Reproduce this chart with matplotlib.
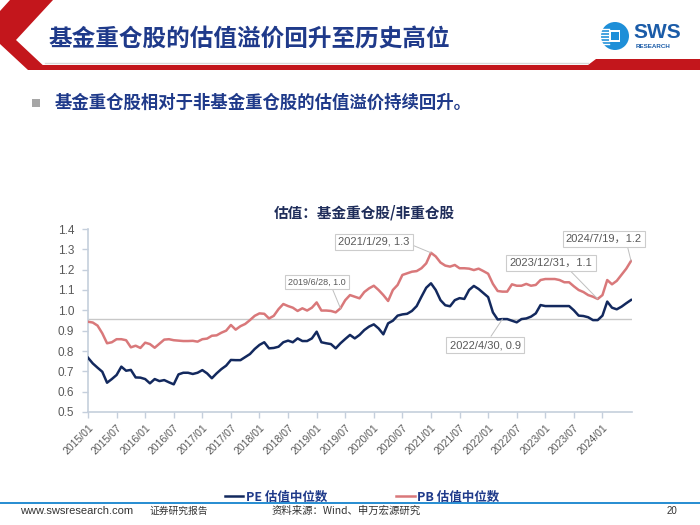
import numpy as np
import matplotlib
matplotlib.use('Agg')
import matplotlib.pyplot as plt
from matplotlib.patches import Polygon, Rectangle, Circle

plt.rcParams['font.family'] = ['Liberation Sans', 'Noto Sans CJK SC', 'DejaVu Sans']

# 月度数据：2015/01 - 2024/07
pe = [0.767, 0.739, 0.718, 0.698, 0.644, 0.662, 0.682, 0.723, 0.703, 0.707,
      0.670, 0.669, 0.662, 0.641, 0.662, 0.652, 0.657, 0.646, 0.636, 0.685,
      0.693, 0.693, 0.687, 0.693, 0.706, 0.690, 0.666, 0.690, 0.711, 0.728,
      0.756, 0.755, 0.755, 0.770, 0.785, 0.810, 0.830, 0.843, 0.813, 0.815,
      0.821, 0.843, 0.851, 0.843, 0.862, 0.849, 0.849, 0.862, 0.895, 0.843,
      0.838, 0.834, 0.813, 0.838, 0.859, 0.879, 0.862, 0.879, 0.903, 0.920,
      0.931, 0.911, 0.882, 0.936, 0.949, 0.974, 0.980, 0.983, 0.997, 1.021,
      1.067, 1.111, 1.133, 1.100, 1.050, 1.025, 1.020, 1.050, 1.060, 1.056,
      1.100, 1.120, 1.105, 1.085, 1.065, 0.990, 0.955, 0.957, 0.957, 0.949,
      0.941, 0.957, 0.960, 0.969, 0.985, 1.026, 1.021, 1.021, 1.021, 1.021,
      1.021, 1.021, 1.000, 0.974, 0.972, 0.966, 0.952, 0.952, 0.974, 1.043,
      1.013, 1.005, 1.018, 1.035, 1.051]
pb = [0.944, 0.940, 0.925, 0.887, 0.838, 0.843, 0.858, 0.858, 0.853, 0.818,
      0.826, 0.815, 0.841, 0.834, 0.816, 0.836, 0.856, 0.858, 0.853, 0.851,
      0.849, 0.849, 0.850, 0.846, 0.858, 0.861, 0.875, 0.877, 0.890, 0.900,
      0.928, 0.905, 0.922, 0.933, 0.952, 0.973, 0.985, 0.983, 0.960, 0.973,
      1.006, 1.031, 1.021, 1.013, 0.997, 1.010, 0.999, 1.013, 1.039, 0.999,
      0.999, 0.997, 0.990, 1.010, 1.050, 1.075, 1.067, 1.059, 1.090, 1.108,
      1.121, 1.100, 1.075, 1.046, 1.100, 1.125, 1.174, 1.182, 1.190, 1.193,
      1.207, 1.231, 1.283, 1.265, 1.235, 1.220, 1.215, 1.223, 1.207, 1.207,
      1.205, 1.198, 1.205, 1.193, 1.180, 1.130, 1.095, 1.092, 1.092, 1.128,
      1.121, 1.121, 1.130, 1.121, 1.125, 1.149, 1.154, 1.154, 1.154, 1.149,
      1.138, 1.138, 1.118, 1.100, 1.090, 1.075, 1.067, 1.056, 1.075, 1.149,
      1.128, 1.145, 1.175, 1.205, 1.243]
ref_level = 0.955
xtick_labels = ['2015/01', '2015/07', '2016/01', '2016/07', '2017/01', '2017/07',
                '2018/01', '2018/07', '2019/01', '2019/07', '2020/01', '2020/07',
                '2021/01', '2021/07', '2022/01', '2022/07', '2023/01', '2023/07',
                '2024/01']
yticks = [0.5, 0.6, 0.7, 0.8, 0.9, 1.0, 1.1, 1.2, 1.3, 1.4]
# 标注：(文字, 序列, 月份序号)
notes = [('2019/6/28, 1.0', 'pb', 53),
         ('2021/1/29, 1.3', 'pb', 72),
         ('2022/4/30, 0.9', 'pe', 87),
         ('2023/12/31，1.1', 'pb', 107),
         ('2024/7/19，1.2', 'pb', 114)]

W, H = 700, 525
def fx(x): return x / W
def fy(y): return 1 - y / H

navy = '#13295e'
salmon = '#d9787a'
title_blue = '#1f3a8a'
red = '#c3161c'
cjk = ['Noto Sans CJK SC', 'DejaVu Sans']

fig = plt.figure(figsize=(7, 5.25), dpi=100)

# 背景装饰
bg = fig.add_axes([0, 0, 1, 1])
bg.set_xlim(0, W); bg.set_ylim(H, 0); bg.axis('off')
bg.add_patch(Polygon([(10, 0), (53, 0), (16, 40), (48, 70), (28, 70), (0, 44), (0, 11)],
                     closed=True, color=red, lw=0))
bg.add_patch(Polygon([(28, 65), (588, 65), (596, 59), (700, 59), (700, 70), (28, 70)],
                     closed=True, color=red, lw=0))
bg.plot([45, 588], [63.2, 63.2], color='#d8d8d8', lw=1)
bg.add_patch(Rectangle((0, 501.5), 700, 2, color='#2b8fd2', lw=0))
bg.add_patch(Rectangle((32, 99), 8, 8, color='#a6a6a6', lw=0))
# logo
bg.add_patch(Circle((615, 36), 14, color='#1e8fd8', lw=0))
for yy in [29, 32, 35, 38, 41, 44]:
    bg.plot([601, 609], [yy, yy], color='white', lw=1)
bg.add_patch(Rectangle((609, 30), 11, 12, color='white', lw=0))
bg.add_patch(Rectangle((611, 32), 8, 8, color='#1e8fd8', lw=0))
fig.text(fx(633), fy(33), 'SWS', fontsize=15, fontweight='bold', color='#1b5ca8',
         ha='left', va='center', family=['Liberation Sans'])
fig.text(fx(636), fy(46), 'RESEARCH', fontsize=4.5, fontweight='bold', color='#1b5ca8',
         ha='left', va='center')

fig.text(fx(48), fy(40), '基金重仓股的估值溢价回升至历史高位', fontsize=17,
         fontweight='bold', color=title_blue, ha='left', va='center', family=cjk)
fig.text(fx(55), fy(103), '基金重仓股相对于非基金重仓股的估值溢价持续回升。', fontsize=12.5,
         fontweight='bold', color=title_blue, ha='left', va='center', family=cjk)
fig.text(fx(364), fy(213), '估值：基金重仓股/非重仓股', fontsize=10.5, fontweight='bold',
         color='#1f2d5a', ha='center', va='center', family=cjk)

# 页脚
fig.text(fx(20), fy(511), 'www.swsresearch.com', fontsize=8, color='#333333',
         ha='left', va='center')
fig.text(fx(150), fy(511), '证券研究报告', fontsize=7, color='#333333',
         ha='left', va='center', family=cjk)
fig.text(fx(272), fy(511), '资料来源：Wind、申万宏源研究', fontsize=7.5, color='#333333',
         ha='left', va='center', family=cjk)
fig.text(fx(677), fy(511), '20', fontsize=7, color='#333333', ha='right', va='center')

# 主图
ax = fig.add_axes([fx(88), fy(412), fx(632) - fx(88), fy(229) - fy(412)])
ax.set_facecolor('none')
m = np.arange(len(pe))
ax.plot(m, pe, color=navy, lw=1.8, label='PE 估值中位数', zorder=3)
ax.plot(m, pb, color=salmon, lw=1.8, label='PB 估值中位数', zorder=3)
ax.plot([m[0], m[-1]], [ref_level, ref_level], color='#c8c8c8', lw=1, zorder=2)

ax.set_xlim(0, len(pe) - 0.8)
ax.set_ylim(0.5, 1.4)
ax.set_yticks(yticks)
ax.set_yticklabels(['%.1f' % v for v in yticks], fontsize=8.5, color='#595959')
ax.set_xticks(np.arange(0, 6 * len(xtick_labels), 6))
ax.set_xticklabels(xtick_labels, rotation=45, ha='right', rotation_mode='anchor',
                   fontsize=7.5, color='#595959')
for s in ['top', 'right']:
    ax.spines[s].set_visible(False)
for s in ['left', 'bottom']:
    ax.spines[s].set_color('#c5cfdc')
    ax.spines[s].set_linewidth(1.2)
ax.tick_params(axis='both', length=4, color='#c5cfdc', width=1)
ax.tick_params(axis='y', pad=6)

# 标注
series = {'pe': pe, 'pb': pb}
boxpos = {0: ((317, 282), 6.5, (0.75, 0)),
          1: ((374, 242), 8, (1, 0.3)),
          2: ((485, 345), 8, (0.55, 1)),
          3: ((551, 263), 8, (0.7, 0)),
          4: ((604, 239), 8, (0.8, 0))}
for i, (txt, key, idx) in enumerate(notes):
    (bx, by), fs, rp = boxpos[i]
    ax.annotate(txt, xy=(idx, series[key][idx]), xycoords='data',
                xytext=(fx(bx), fy(by)), textcoords='figure fraction',
                fontsize=fs, color='#595959', ha='center', va='center',
                family=['Liberation Sans', 'Noto Sans CJK SC'],
                bbox=dict(boxstyle='square,pad=0.3', fc='white', ec='#cccccc', lw=0.8),
                arrowprops=dict(arrowstyle='-', color='#bfbfbf', lw=0.7,
                                relpos=rp, shrinkA=0, shrinkB=0),
                zorder=5)

fig.legend(loc='center', bbox_to_anchor=(fx(362), fy(497)), ncol=2, frameon=False,
           handlelength=1.5, handletextpad=0.2, columnspacing=5.5,
           prop={'family': cjk, 'weight': 'bold', 'size': 9}, labelcolor=title_blue)

fig.savefig('out.png', dpi=100)
